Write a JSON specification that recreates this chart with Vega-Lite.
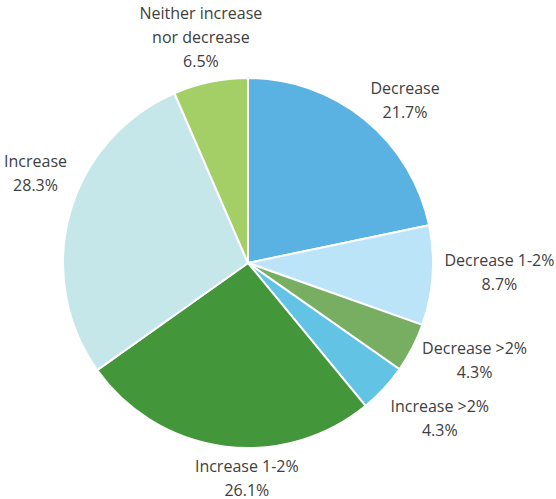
{
  "$schema": "https://vega.github.io/schema/vega-lite/v6.json",
  "width": 496,
  "height": 472,
  "autosize": {"type": "none"},
  "padding": {"left": 0, "right": 60, "top": 27, "bottom": 0},
  "background": "white",
  "config": {"view": {"stroke": null}, "text": {"font": "Open Sans", "fontSize": 16, "lineBreak": "\n", "lineHeight": 24, "align": "center", "baseline": "middle"}},
  "data": {
    "values": [
      {"category": "Decrease", "label": "Decrease", "value": 21.7},
      {"category": "Decrease 1-2%", "label": "Decrease 1-2%", "value": 8.7},
      {"category": "Decrease >2%", "label": "Decrease >2%", "value": 4.3},
      {"category": "Increase >2%", "label": "Increase >2%", "value": 4.3},
      {"category": "Increase 1-2%", "label": "Increase 1-2%", "value": 26.1},
      {"category": "Increase", "label": "Increase", "value": 28.3},
      {"category": "Neither increase nor decrease", "label": "Neither increase\nnor decrease", "value": 6.5}
    ]
  },
  "transform": [
    {"window": [{"op": "row_number", "as": "i"}]},
    {"stack": "value", "groupby": [], "sort": [{"field": "i", "order": "ascending"}], "as": ["v0", "v1"]},
    {"calculate": "(datum.v0 + datum.v1) / 2", "as": "mid"},
    {"calculate": "datum.label + '\\n' + format(datum.value, '.1f') + '%'", "as": "text"}
  ],
  "layer": [
    {
      "mark": {"type": "arc", "outerRadius": 185, "stroke": "white", "strokeWidth": 2},
      "encoding": {
        "theta": {"field": "v0", "type": "quantitative", "scale": {"domain": [0, 99.9], "zero": true}},
        "theta2": {"field": "v1"},
        "color": {
          "field": "category",
          "type": "nominal",
          "sort": null,
          "legend": null,
          "scale": {
            "domain": ["Decrease", "Decrease 1-2%", "Decrease >2%", "Increase >2%", "Increase 1-2%", "Increase", "Neither increase nor decrease"],
            "range": ["#5AB2E3", "#BCE4F8", "#78AE62", "#62C3E4", "#43963A", "#C6E7EA", "#A3CF66"]
          }
        }
      }
    },
    {
      "transform": [{"filter": "datum.category == 'Neither increase nor decrease'"}],
      "mark": {"type": "text", "radius": 232, "dx": 0, "dy": -22},
      "encoding": {"theta": {"field": "mid", "type": "quantitative"}, "text": {"field": "text"}, "color": {"value": "#404040"}}
    },
    {
      "transform": [{"filter": "datum.category == 'Decrease'"}],
      "mark": {"type": "text", "radius": 230, "dx": 12, "dy": 4},
      "encoding": {"theta": {"field": "mid", "type": "quantitative"}, "text": {"field": "text"}, "color": {"value": "#404040"}}
    },
    {
      "transform": [{"filter": "datum.category == 'Decrease 1-2%'"}],
      "mark": {"type": "text", "radius": 249, "dx": 3, "dy": -19},
      "encoding": {"theta": {"field": "mid", "type": "quantitative"}, "text": {"field": "text"}, "color": {"value": "#404040"}}
    },
    {
      "transform": [{"filter": "datum.category == 'Decrease >2%'"}],
      "mark": {"type": "text", "radius": 246, "dx": 8, "dy": -27},
      "encoding": {"theta": {"field": "mid", "type": "quantitative"}, "text": {"field": "text"}, "color": {"value": "#404040"}}
    },
    {
      "transform": [{"filter": "datum.category == 'Increase >2%'"}],
      "mark": {"type": "text", "radius": 230, "dx": 23, "dy": -12},
      "encoding": {"theta": {"field": "mid", "type": "quantitative"}, "text": {"field": "text"}, "color": {"value": "#404040"}}
    },
    {
      "transform": [{"filter": "datum.category == 'Increase 1-2%'"}],
      "mark": {"type": "text", "radius": 214, "dx": 27, "dy": -8},
      "encoding": {"theta": {"field": "mid", "type": "quantitative"}, "text": {"field": "text"}, "color": {"value": "#404040"}}
    },
    {
      "transform": [{"filter": "datum.category == 'Increase'"}],
      "mark": {"type": "text", "radius": 232, "dx": 11, "dy": -39},
      "encoding": {"theta": {"field": "mid", "type": "quantitative"}, "text": {"field": "text"}, "color": {"value": "#404040"}}
    }
  ]
}
